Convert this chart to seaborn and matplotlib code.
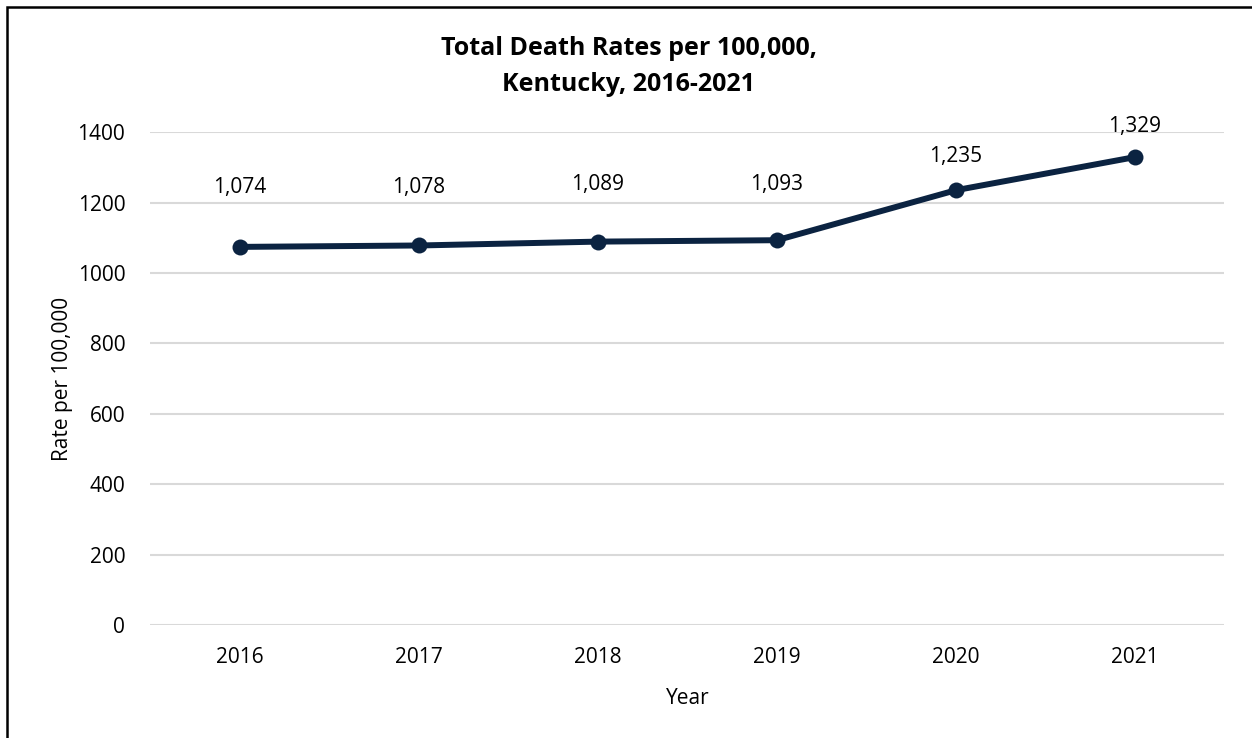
#!/usr/bin/env python3

import pandas as pd
import seaborn as sns
from matplotlib import pyplot as plt
from matplotlib.patches import Rectangle

years = ['2016', '2017', '2018', '2019', '2020', '2021']
rates = [1074, 1078, 1089, 1093, 1235, 1329]
yticks = [0, 200, 400, 600, 800, 1000, 1200, 1400]

navy = '#0b2341'


def plot(out_file):
    df = pd.DataFrame({'year': years, 'rate': rates})

    sns.set_theme(style='white')
    plt.rcParams['font.family'] = ['Open Sans', 'DejaVu Sans']

    f = plt.figure(figsize=(12.52, 7.38), dpi=100)
    ax = f.add_axes([0.120, 0.153, 0.858, 0.668])

    sns.lineplot(data=df, x='year', y='rate', color=navy, linewidth=4.3,
                 marker='o', markersize=11.5, markeredgewidth=0,
                 sort=False, ax=ax)

    ax.set_xlim(-0.5, len(years) - 0.5)
    ax.set_ylim(0, 1400)
    ax.set_yticks(yticks)
    ax.yaxis.grid(True, color='#d9d9d9', linewidth=1.5)
    ax.set_axisbelow(True)
    sns.despine(ax=ax, left=True, bottom=True)
    ax.tick_params(axis='both', length=0, labelsize=15, colors='black')
    ax.tick_params(axis='y', pad=18)
    ax.tick_params(axis='x', pad=16)

    # labels in the source sit higher over the flat part of the line
    label_offsets = [43, 42, 41, 40, 24, 22]
    for i, v in enumerate(rates):
        ax.annotate(f'{v:,}', (i, v), xytext=(0, label_offsets[i]),
                    textcoords='offset points', ha='center', va='center',
                    fontsize=15, color='black')

    ax.set_xlabel('Year', fontsize=15, color='black', labelpad=14)
    ax.set_ylabel('Rate per 100,000', fontsize=15, color='black', labelpad=3)

    f.text(0.502, 0.910, 'Total Death Rates per 100,000,\nKentucky, 2016-2021',
           ha='center', va='center', fontsize=18, fontweight='bold',
           linespacing=1.55, color='black')

    # border (only top/left edges visible in the source crop)
    f.patches.append(Rectangle((0.0056, -0.1), 1.2, 1.09, transform=f.transFigure,
                               fill=False, edgecolor='black', linewidth=1.8))

    f.savefig(out_file, dpi=100)


if __name__ == '__main__':
    plot('out.png')
